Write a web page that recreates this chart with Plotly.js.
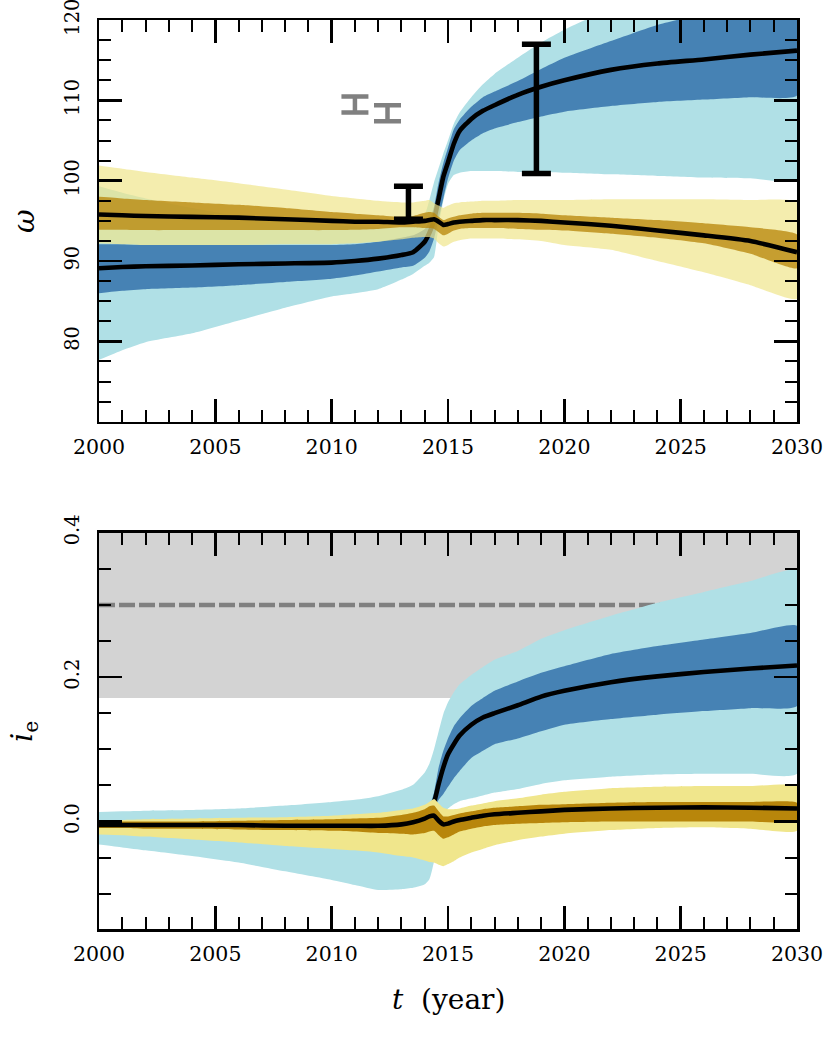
<!DOCTYPE html>
<html>
<head>
<meta charset="utf-8">
<script src="https://cdn.plot.ly/plotly-3.0.1.min.js"></script>
<style>html,body{margin:0;padding:0;background:#fff;}#plot{width:830px;height:1039px;}</style>
</head>
<body>
<div id="plot"></div>
<script>
// ---------- data ----------
const T = [2000, 2001, 2002, 2004, 2006, 2008, 2010, 2011, 2012, 2013, 2013.5, 2014, 2014.2, 2014.4, 2014.6, 2014.8, 2015, 2015.25, 2015.5, 2016, 2016.5, 2017, 2018, 2019, 2020, 2022, 2024, 2026, 2028, 2030];

// top panel: omega, blue population
const wB_med = [89.1, 89.25, 89.35, 89.45, 89.6, 89.7, 89.8, 90.0, 90.3, 90.75, 91.1, 92.4, 93.5, 95.1, 97.8, 100.5, 102.3, 104.6, 106.2, 107.7, 108.7, 109.4, 110.7, 111.7, 112.5, 113.8, 114.6, 115.1, 115.7, 116.2];
const wB_dHi = [92.1, 92.1, 92.0, 92.0, 92.0, 92.0, 92.0, 92.1, 92.4, 92.9, 93.2, 94.0, 95.0, 96.8, 99.8, 102.2, 104.1, 106.4, 107.6, 109.2, 110.4, 111.1, 112.4, 113.9, 115.3, 117.4, 119.4, 120.8, 122.2, 123.6];
const wB_dLo = [86.0, 86.3, 86.5, 86.7, 87.0, 87.4, 87.8, 88.2, 88.7, 89.2, 89.4, 90.4, 91.2, 92.8, 95.3, 97.8, 100.3, 102.5, 103.8, 105.0, 105.9, 106.5, 107.3, 108.0, 108.6, 109.3, 109.8, 110.1, 110.4, 110.6];
const wB_lHi = [99.3, 98.5, 97.8, 96.6, 95.6, 95.0, 94.5, 94.3, 94.2, 94.2, 94.5, 95.8, 97.6, 99.8, 101.6, 103.4, 105.0, 107.1, 108.5, 110.4, 112.0, 113.3, 115.3, 117.2, 118.8, 121.4, 123.0, 124.5, 126.0, 127.0];
const wB_lLo = [77.7, 78.9, 79.9, 81.0, 82.6, 84.2, 85.6, 86.0, 86.5, 87.7, 88.4, 89.4, 89.8, 90.5, 94.5, 97.5, 99.6, 100.7, 101.0, 101.2, 101.2, 101.2, 101.1, 101.1, 101.0, 100.8, 100.6, 100.4, 100.3, 100.1];

// top panel: omega, yellow population
const wY_med = [95.8, 95.7, 95.6, 95.5, 95.4, 95.2, 95.0, 94.9, 94.9, 94.8, 94.9, 95.0, 95.1, 95.2, 94.9, 94.5, 94.6, 94.8, 94.9, 95.0, 95.1, 95.1, 95.1, 95.0, 94.8, 94.4, 93.8, 93.2, 92.5, 91.1];
const wY_dHi = [98.0, 97.8, 97.6, 97.3, 97.0, 96.6, 96.1, 95.9, 95.7, 95.5, 95.6, 96.0, 96.1, 96.0, 95.5, 95.1, 95.3, 95.5, 95.7, 95.9, 96.0, 96.0, 96.0, 95.9, 95.7, 95.4, 95.1, 94.7, 94.2, 93.3];
const wY_dLo = [93.9, 93.9, 93.85, 93.85, 93.85, 93.85, 93.85, 93.9, 94.0, 94.2, 94.2, 94.1, 94.1, 94.0, 93.6, 93.2, 93.4, 93.8, 94.0, 94.1, 94.1, 94.1, 94.0, 93.9, 93.8, 93.4, 92.9, 92.2, 90.9, 89.1];
const wY_lHi = [101.9, 101.5, 101.1, 100.4, 99.7, 98.9, 98.1, 97.8, 97.5, 97.3, 97.3, 97.5, 97.6, 97.2, 96.9, 96.6, 96.9, 97.2, 97.3, 97.4, 97.5, 97.5, 97.6, 97.6, 97.6, 97.7, 97.7, 97.7, 97.6, 97.3];
const wY_lLo = [92.2, 92.1, 92.0, 92.0, 92.0, 92.1, 92.1, 92.2, 92.4, 92.7, 92.9, 93.0, 93.0, 92.8, 92.2, 91.8, 92.0, 92.4, 92.6, 92.8, 92.8, 92.8, 92.7, 92.5, 92.0, 91.4, 90.0, 88.6, 87.0, 85.3];

// bottom panel: i_e, blue population
const iB_med = [-0.006, -0.006, -0.006, -0.006, -0.006, -0.007, -0.007, -0.007, -0.007, -0.005, -0.003, 0.003, 0.011, 0.026, 0.052, 0.075, 0.093, 0.107, 0.119, 0.134, 0.144, 0.150, 0.161, 0.173, 0.181, 0.193, 0.201, 0.207, 0.212, 0.216];
const iB_dHi = [-0.002, -0.002, -0.002, -0.002, -0.002, -0.003, -0.003, -0.003, -0.003, -0.001, 0.002, 0.010, 0.020, 0.040, 0.075, 0.098, 0.115, 0.132, 0.143, 0.160, 0.171, 0.181, 0.194, 0.206, 0.215, 0.232, 0.243, 0.252, 0.261, 0.271];
const iB_dLo = [-0.010, -0.010, -0.010, -0.010, -0.010, -0.011, -0.011, -0.011, -0.011, -0.009, -0.007, -0.002, 0.005, 0.017, 0.030, 0.038, 0.048, 0.060, 0.070, 0.088, 0.098, 0.107, 0.115, 0.125, 0.134, 0.142, 0.148, 0.153, 0.157, 0.160];
const iB_lHi = [0.013, 0.014, 0.015, 0.016, 0.018, 0.022, 0.027, 0.030, 0.035, 0.044, 0.051, 0.068, 0.080, 0.100, 0.125, 0.149, 0.165, 0.179, 0.190, 0.203, 0.214, 0.224, 0.236, 0.253, 0.265, 0.285, 0.303, 0.318, 0.333, 0.348];
const iB_lLo = [-0.032, -0.036, -0.040, -0.048, -0.057, -0.069, -0.081, -0.088, -0.095, -0.094, -0.092, -0.087, -0.080, -0.055, 0.001, 0.010, 0.018, 0.024, 0.028, 0.032, 0.036, 0.040, 0.045, 0.052, 0.057, 0.062, 0.065, 0.066, 0.066, 0.066];

// bottom panel: i_e, yellow population
const iY_med = [-0.005, -0.005, -0.005, -0.005, -0.005, -0.006, -0.006, -0.006, -0.006, -0.004, -0.001, 0.004, 0.007, 0.008, 0.001, -0.004, -0.003, 0.000, 0.002, 0.005, 0.008, 0.010, 0.012, 0.014, 0.016, 0.018, 0.019, 0.0195, 0.019, 0.018];
const iY_dHi = [0.000, 0.000, 0.000, 0.000, 0.001, 0.002, 0.003, 0.004, 0.005, 0.009, 0.012, 0.017, 0.021, 0.022, 0.014, 0.007, 0.007, 0.009, 0.011, 0.014, 0.017, 0.019, 0.021, 0.023, 0.024, 0.026, 0.027, 0.027, 0.027, 0.026];
const iY_dLo = [-0.009, -0.009, -0.010, -0.010, -0.011, -0.012, -0.013, -0.014, -0.016, -0.017, -0.018, -0.016, -0.014, -0.013, -0.019, -0.024, -0.022, -0.018, -0.014, -0.010, -0.007, -0.005, -0.003, -0.002, -0.001, 0.000, 0.000, 0.000, 0.000, 0.000];
const iY_lHi = [0.002, 0.002, 0.003, 0.004, 0.005, 0.006, 0.008, 0.010, 0.012, 0.016, 0.018, 0.023, 0.027, 0.031, 0.025, 0.019, 0.017, 0.017, 0.018, 0.022, 0.025, 0.028, 0.032, 0.037, 0.041, 0.046, 0.048, 0.049, 0.049, 0.049];
const iY_lLo = [-0.018, -0.019, -0.021, -0.025, -0.029, -0.034, -0.038, -0.040, -0.043, -0.048, -0.050, -0.054, -0.056, -0.057, -0.060, -0.062, -0.059, -0.055, -0.050, -0.043, -0.038, -0.033, -0.026, -0.021, -0.017, -0.012, -0.009, -0.008, -0.010, -0.013];

// observational error bars (top panel)
const obsGrayX = [2011.0, 2012.4];
const obsGrayLo = [108.5, 107.4];
const obsGrayHi = [110.5, 109.4];
const obsBlackX = [2013.3, 2018.8];
const obsBlackLo = [95.2, 100.9];
const obsBlackHi = [99.3, 117.0];

// bottom panel reference band and threshold
const refBand = [0.171, 0.4];
const refLine = 0.3;

// axes ticks
const xTicks = [2000, 2005, 2010, 2015, 2020, 2025, 2030];
const yTicksTop = [80, 90, 100, 110, 120];
const yTicksBot = [0.0, 0.2, 0.4];
const yTickTextBot = ['0.0', '0.2', '0.4'];

// ---------- styling ----------
const LB = '#b0e0e6', DB = '#4682b4';
const KH_T = 'rgba(240,230,140,0.7)', DG_T = 'rgba(184,134,11,0.77)';
const KH_B = '#f0e68c', DG_B = '#b8860b';
const SMOOTH = 0.5;

function band(x, lo, hi, color, xa, ya) {
  return {
    x: x.concat(x.slice().reverse()),
    y: hi.concat(lo.slice().reverse()),
    xaxis: xa, yaxis: ya,
    type: 'scatter', mode: 'lines', fill: 'toself', fillcolor: color,
    line: {width: 0, color: color, shape: 'spline', smoothing: SMOOTH}, hoverinfo: 'skip', showlegend: false
  };
}
function med(x, y, xa, ya) {
  return {x: x, y: y, xaxis: xa, yaxis: ya, type: 'scatter', mode: 'lines',
    line: {color: '#000', width: 4.6, shape: 'spline', smoothing: SMOOTH}, hoverinfo: 'skip', showlegend: false};
}
function errs(x, lo, hi, color, w, th) {
  const mid = lo.map((v, i) => (v + hi[i]) / 2);
  const e = lo.map((v, i) => (hi[i] - v) / 2);
  return {x: x, y: mid, xaxis: 'x', yaxis: 'y', type: 'scatter', mode: 'markers',
    marker: {size: 1, color: 'rgba(0,0,0,0)'},
    error_y: {type: 'data', array: e, symmetric: true, color: color, thickness: th, width: w},
    hoverinfo: 'skip', showlegend: false};
}

const traces = [
  band(T, wB_lLo, wB_lHi, LB, 'x', 'y'),
  band(T, wB_dLo, wB_dHi, DB, 'x', 'y'),
  med(T, wB_med, 'x', 'y'),
  band(T, wY_lLo, wY_lHi, KH_T, 'x', 'y'),
  band(T, wY_dLo, wY_dHi, DG_T, 'x', 'y'),
  med(T, wY_med, 'x', 'y'),
  errs(obsGrayX, obsGrayLo, obsGrayHi, '#808080', 13.5, 4.5),
  errs(obsBlackX, obsBlackLo, obsBlackHi, '#000000', 14.5, 5.5),

  band(T, iB_lLo, iB_lHi, LB, 'x2', 'y2'),
  band(T, iB_dLo, iB_dHi, DB, 'x2', 'y2'),
  med(T, iB_med, 'x2', 'y2'),
  band(T, iY_lLo, iY_lHi, KH_B, 'x2', 'y2'),
  band(T, iY_dLo, iY_dHi, DG_B, 'x2', 'y2'),
  med(T, iY_med, 'x2', 'y2')
];

const FONT = 'DejaVu Serif';
const xTickFont = {family: FONT, size: 20.5, color: '#000'};
const yTickFont = {family: FONT, size: 19.5, color: '#000'};
function xAx(anchor) {
  return {
    anchor: anchor, domain: [0, 1], range: [2000, 2030],
    tickmode: 'array', tickvals: xTicks, ticktext: xTicks.map(String),
    ticks: 'inside', ticklen: 23, tickwidth: 2.5, tickcolor: '#000',
    minor: {ticks: 'inside', dtick: 1, tick0: 2000, ticklen: 12, tickwidth: 2, tickcolor: '#000', showgrid: false},
    showline: true, linewidth: 2.5, linecolor: '#000', mirror: 'allticks',
    showgrid: false, zeroline: false, tickfont: xTickFont, ticklabelstandoff: 5,
    ticklabeloverflow: 'allow'
  };
}
function yAx(anchor, domain, range, vals, text, mdt, m0) {
  return {
    anchor: anchor, domain: domain, range: range,
    tickmode: 'array', tickvals: vals, ticktext: text,
    ticks: 'inside', ticklen: 23, tickwidth: 2.5, tickcolor: '#000',
    minor: {ticks: 'inside', dtick: mdt, tick0: m0, ticklen: 12, tickwidth: 2, tickcolor: '#000', showgrid: false},
    showline: true, linewidth: 2.5, linecolor: '#000', mirror: 'allticks',
    showgrid: false, zeroline: false, tickfont: yTickFont, tickangle: -90, ticklabelstandoff: 10,
    ticklabeloverflow: 'allow', automargin: false
  };
}

const layout = {
  width: 830, height: 1039,
  margin: {l: 99, r: 33, t: 20, b: 110},
  paper_bgcolor: '#fff', plot_bgcolor: '#fff',
  showlegend: false,
  font: {family: FONT, color: '#000'},
  xaxis: xAx('y'),
  yaxis: yAx('x', [0.5581, 1], [70, 120.01], yTicksTop, yTicksTop.map(String), 2.5, 70),
  xaxis2: xAx('y2'),
  yaxis2: yAx('x2', [0, 0.4360], [-0.149, 0.4001], yTicksBot, yTickTextBot, 0.05, 0),
  shapes: [
    {type: 'rect', xref: 'x2', yref: 'y2', x0: 2000, x1: 2030, y0: refBand[0], y1: refBand[1],
     fillcolor: '#d3d3d3', line: {width: 0}, layer: 'below'},
    {type: 'line', xref: 'x2', yref: 'y2', x0: 2000, x1: 2030, y0: refLine, y1: refLine,
     line: {color: '#808080', width: 4.5, dash: '16px,4px'}, layer: 'below'}
  ],
  annotations: [
    {xref: 'paper', yref: 'paper', x: -0.1075, y: 0.7789, text: '<i>ω</i>', showarrow: false,
     textangle: -90, xanchor: 'center', yanchor: 'middle', font: {family: FONT, size: 29, color: '#000'}},
    {xref: 'paper', yref: 'paper', x: -0.1075, y: 0.2178, text: '<i>i</i><sub>e</sub>', showarrow: false,
     textangle: -90, xanchor: 'center', yanchor: 'middle', font: {family: FONT, size: 29, color: '#000'}},
    {xref: 'paper', yref: 'paper', x: 0.5, y: -0.0781, text: '<i>t</i>  (year)', showarrow: false,
     xanchor: 'center', yanchor: 'middle', font: {family: FONT, size: 28, color: '#000'}}
  ]
};

Plotly.newPlot('plot', traces, layout, {staticPlot: true, displayModeBar: false});
</script>
</body>
</html>
